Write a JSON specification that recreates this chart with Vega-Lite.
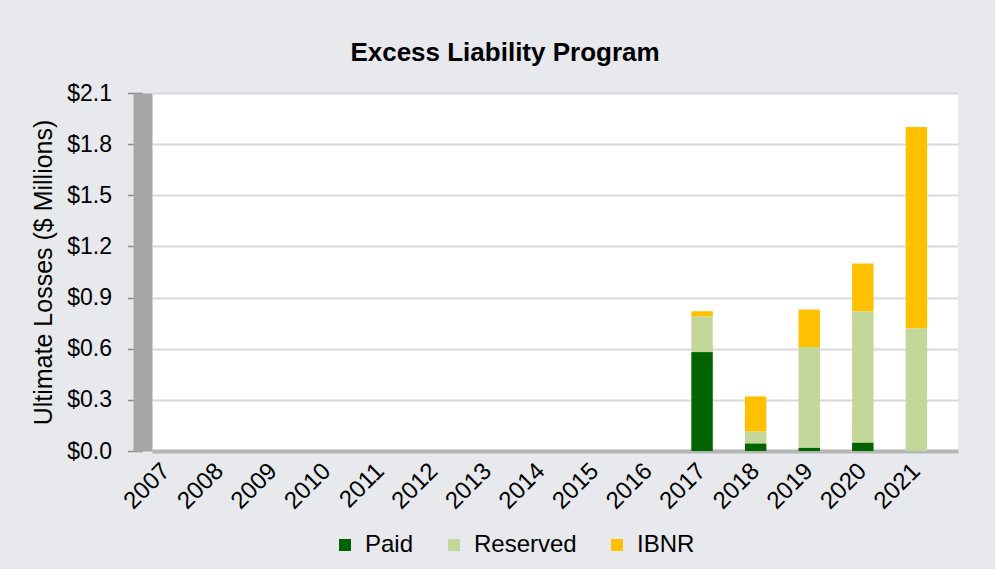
{
  "$schema": "https://vega.github.io/schema/vega-lite/v6.json",
  "autosize": {"type": "none"},
  "width": 806,
  "height": 358,
  "padding": {"left": 152, "top": 93, "right": 37, "bottom": 118},
  "background": "#e7e9ec",
  "title": {"text": "Excess Liability Program", "font": "Liberation Sans", "fontSize": 26, "fontWeight": "bold", "color": "#000000", "anchor": "middle", "dx": -50, "offset": 16},
  "config": {
    "view": {"fill": "#ffffff", "stroke": null},
    "font": "Liberation Sans"
  },
  "data": {"values": [
    {"year": "2007", "type": "Paid", "value": 0}, {"year": "2007", "type": "Reserved", "value": 0}, {"year": "2007", "type": "IBNR", "value": 0},
    {"year": "2008", "type": "Paid", "value": 0}, {"year": "2008", "type": "Reserved", "value": 0}, {"year": "2008", "type": "IBNR", "value": 0},
    {"year": "2009", "type": "Paid", "value": 0}, {"year": "2009", "type": "Reserved", "value": 0}, {"year": "2009", "type": "IBNR", "value": 0},
    {"year": "2010", "type": "Paid", "value": 0}, {"year": "2010", "type": "Reserved", "value": 0}, {"year": "2010", "type": "IBNR", "value": 0},
    {"year": "2011", "type": "Paid", "value": 0}, {"year": "2011", "type": "Reserved", "value": 0}, {"year": "2011", "type": "IBNR", "value": 0},
    {"year": "2012", "type": "Paid", "value": 0}, {"year": "2012", "type": "Reserved", "value": 0}, {"year": "2012", "type": "IBNR", "value": 0},
    {"year": "2013", "type": "Paid", "value": 0}, {"year": "2013", "type": "Reserved", "value": 0}, {"year": "2013", "type": "IBNR", "value": 0},
    {"year": "2014", "type": "Paid", "value": 0}, {"year": "2014", "type": "Reserved", "value": 0}, {"year": "2014", "type": "IBNR", "value": 0},
    {"year": "2015", "type": "Paid", "value": 0}, {"year": "2015", "type": "Reserved", "value": 0}, {"year": "2015", "type": "IBNR", "value": 0},
    {"year": "2016", "type": "Paid", "value": 0}, {"year": "2016", "type": "Reserved", "value": 0}, {"year": "2016", "type": "IBNR", "value": 0},
    {"year": "2017", "type": "Paid", "value": 0.58}, {"year": "2017", "type": "Reserved", "value": 0.21}, {"year": "2017", "type": "IBNR", "value": 0.03},
    {"year": "2018", "type": "Paid", "value": 0.045}, {"year": "2018", "type": "Reserved", "value": 0.07}, {"year": "2018", "type": "IBNR", "value": 0.205},
    {"year": "2019", "type": "Paid", "value": 0.02}, {"year": "2019", "type": "Reserved", "value": 0.59}, {"year": "2019", "type": "IBNR", "value": 0.22},
    {"year": "2020", "type": "Paid", "value": 0.05}, {"year": "2020", "type": "Reserved", "value": 0.77}, {"year": "2020", "type": "IBNR", "value": 0.28},
    {"year": "2021", "type": "Paid", "value": 0}, {"year": "2021", "type": "Reserved", "value": 0.72}, {"year": "2021", "type": "IBNR", "value": 1.18}
  ]},
  "transform": [
    {"calculate": "indexof(['Paid','Reserved','IBNR'], datum.type)", "as": "ord"}
  ],
  "mark": {"type": "bar"},
  "encoding": {
    "x": {
      "field": "year", "type": "ordinal",
      "scale": {"paddingInner": 0.6, "paddingOuter": 0.32, "align": 0.1},
      "axis": {"title": null, "labelAngle": -45, "labelFontSize": 24, "labelColor": "#000000", "labelAlign": "right", "labelBaseline": "middle", "ticks": false, "domainColor": "#b5b5b5", "domainWidth": 4, "labelPadding": 16}
    },
    "y": {
      "field": "value", "type": "quantitative", "aggregate": "sum",
      "scale": {"domain": [0, 2.1]},
      "axis": {"title": "Ultimate Losses ($ Millions)", "titleFontSize": 25, "titleFontWeight": "normal", "titleColor": "#000000", "titlePadding": 10, "values": [0, 0.3, 0.6, 0.9, 1.2, 1.5, 1.8, 2.1], "labelExpr": "'$' + format(datum.value, '.1f')", "labelFontSize": 23, "labelColor": "#000000", "labelPadding": 16, "offset": 9.5, "ticks": true, "tickColor": "#8c8c8c", "tickSize": 15, "tickWidth": 1.5, "domainColor": "#a6a6a6", "domainWidth": 19, "gridColor": "#d9d9d9", "gridWidth": 2}
    },
    "color": {
      "field": "type", "type": "nominal",
      "scale": {"domain": ["Paid", "Reserved", "IBNR"], "range": ["#006400", "#c4d79b", "#ffc000"]},
      "legend": {"title": null, "orient": "none", "direction": "horizontal", "legendX": 181, "legendY": 440, "symbolType": "square", "symbolSize": 144, "labelFontSize": 24, "labelColor": "#000000", "columnPadding": 28, "symbolStrokeWidth": 0, "labelOffset": 8}
    },
    "order": {"field": "ord", "type": "quantitative"}
  }
}
